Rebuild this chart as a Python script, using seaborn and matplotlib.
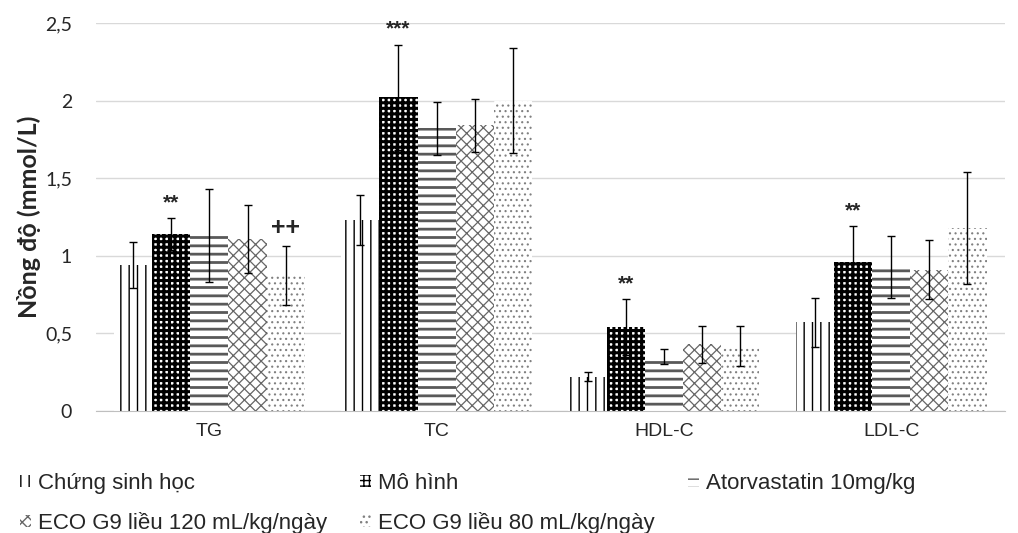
import pandas as pd
import matplotlib.pyplot as plt
import seaborn as sns
from matplotlib.patches import Patch

# chỉ số lipid máu
categories = ["TG", "TC", "HDL-C", "LDL-C"]
groups = [
    "Chứng sinh học",
    "Mô hình",
    "Atorvastatin 10mg/kg",
    "ECO G9 liều 120 mL/kg/ngày",
    "ECO G9 liều 80 mL/kg/ngày",
]
chung = [0.94, 1.23, 0.22, 0.57]
mo_hinh = [1.14, 2.02, 0.54, 0.96]
atorva = [1.13, 1.82, 0.35, 0.93]
eco120 = [1.11, 1.84, 0.43, 0.91]
eco80 = [0.87, 2.00, 0.42, 1.18]

sd_chung = [0.15, 0.16, 0.03, 0.16]
sd_mo_hinh = [0.10, 0.34, 0.18, 0.23]
sd_atorva = [0.30, 0.17, 0.05, 0.20]
sd_eco120 = [0.22, 0.17, 0.12, 0.19]
sd_eco80 = [0.19, 0.34, 0.13, 0.36]

# ký hiệu ý nghĩa thống kê: (nhóm, chỉ số, nhãn)
marks = [
    ("Mô hình", "TG", "**"),
    ("Mô hình", "TC", "***"),
    ("Mô hình", "HDL-C", "**"),
    ("Mô hình", "LDL-C", "**"),
    ("ECO G9 liều 80 mL/kg/ngày", "TG", "++"),
]

means = [chung, mo_hinh, atorva, eco120, eco80]
sds = [sd_chung, sd_mo_hinh, sd_atorva, sd_eco120, sd_eco80]
rows = []
for g, m, s in zip(groups, means, sds):
    for c, v, e in zip(categories, m, s):
        rows.append({"group": g, "cat": c, "value": v, "sd": e})
df = pd.DataFrame(rows)

styles = {
    "Chứng sinh học": ("||", "black", 1.0),
    "Mô hình": ("+++", "black", 2.2),
    "Atorvastatin 10mg/kg": ("--", "#595959", 2.0),
    "ECO G9 liều 120 mL/kg/ngày": ("xxx", "#666666", 0.9),
    "ECO G9 liều 80 mL/kg/ngày": ("...", "#808080", 0.8),
}

sns.set_style("white")
plt.rcParams["font.family"] = ["Liberation Sans", "DejaVu Sans"]

fig = plt.figure(figsize=(10.18, 5.33), dpi=100)
ax = fig.add_axes([0.094, 0.229, 0.893, 0.728])

sns.barplot(data=df, x="cat", y="value", hue="group", order=categories,
            hue_order=groups, errorbar=None, width=0.84, legend=False,
            color="white", ax=ax)

for g, cont in zip(groups, ax.containers):
    hatch, col, hlw = styles[g]
    sub = df[df["group"] == g].set_index("cat").loc[categories]
    xs = []
    for bar in cont:
        bar.set_facecolor("white")
        bar.set_edgecolor(col)
        bar.set_linewidth(0)
        bar.set_hatch(hatch)
        if hasattr(bar, "set_hatch_linewidth"):
            bar.set_hatch_linewidth(hlw)
        xs.append(bar.get_x() + bar.get_width() / 2)
    ax.errorbar(xs, sub["value"], yerr=sub["sd"], fmt="none", ecolor="black",
                elinewidth=1, capsize=3, capthick=1, zorder=5)
    for grp, cat, lab in marks:
        if grp == g:
            i = categories.index(cat)
            top = sub["value"].iloc[i] + sub["sd"].iloc[i]
            big = lab == "++"
            ax.text(xs[i], top + 0.04, lab, ha="center", va="bottom",
                    fontsize=18 if big else 15, fontweight="bold")

ax.set_xlim(-0.5, 3.5)
ax.set_ylim(0, 2.5)
ax.set_yticks([0, 0.5, 1, 1.5, 2, 2.5])
ax.set_yticklabels(["0", "0,5", "1", "1,5", "2", "2,5"], family="Lato",
                   fontsize=14)
ax.yaxis.grid(True, color="#d9d9d9", linewidth=1)
ax.set_axisbelow(True)
for s in ["top", "right", "left"]:
    ax.spines[s].set_visible(False)
ax.spines["bottom"].set_color("#bfbfbf")
ax.tick_params(axis="y", length=0, pad=17)
ax.tick_params(axis="x", length=0, labelsize=14, pad=9)
ax.set_xlabel("")
ax.set_ylabel("Nồng độ (mmol/L)", fontsize=18, fontweight="bold",
              family="Lato", labelpad=3)

handles = {}
for g in groups:
    hatch, col, hlw = styles[g]
    handles[g] = Patch(facecolor="white", edgecolor=col, linewidth=0,
                       hatch=hatch, label=g)
order = [groups[0], groups[3], groups[1], groups[4], groups[2]]
fig.legend([handles[g] for g in order], order, ncol=3, loc="upper left",
           bbox_to_anchor=(0.0, 0.15), frameon=False, fontsize=16,
           handlelength=0.5, handleheight=0.5, handletextpad=0.3,
           labelspacing=0.8, columnspacing=1.5)

fig.savefig("out.png", dpi=100)
